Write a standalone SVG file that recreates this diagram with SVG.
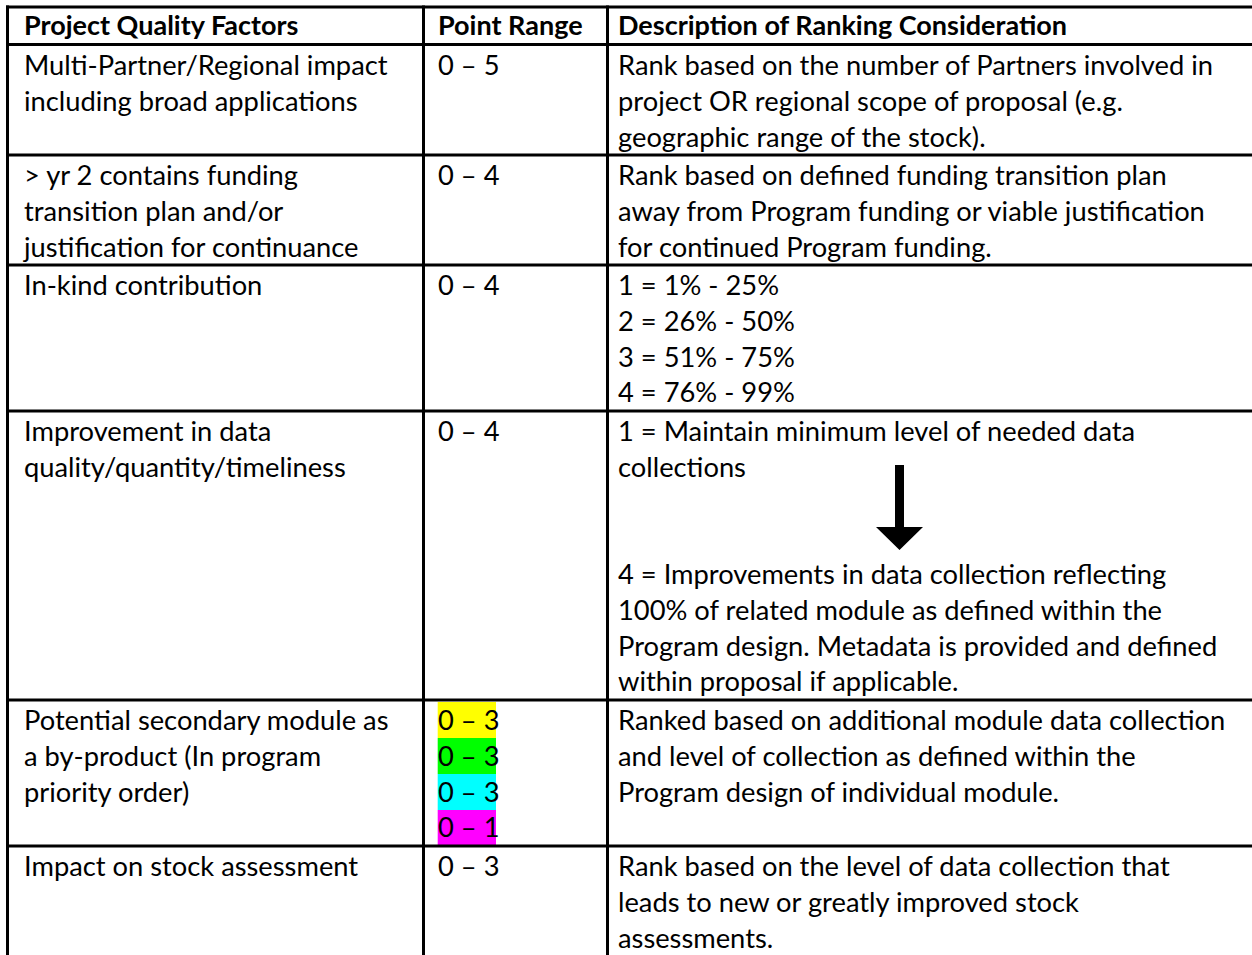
<svg xmlns="http://www.w3.org/2000/svg" width="1252" height="955" viewBox="0 0 1252 955">
<style>
text{font-family:Lato,"Carlito","Liberation Sans",sans-serif;font-size:27.3px;fill:#000}
.b{font-weight:bold;font-size:27px}
.grid line{stroke:#000;stroke-width:3}
</style>
<rect width="1252" height="955" fill="#fff"/>
<g id="highlights">
<rect x="437.7" y="702" width="58.3" height="36" fill="#ffff00"/>
<rect x="437.7" y="738" width="58.3" height="36" fill="#00ff00"/>
<rect x="437.7" y="774" width="58.3" height="36" fill="#00ffff"/>
<rect x="437.7" y="810" width="58.3" height="35" fill="#ff00ff"/>
</g>
<g id="grid" class="grid">
<line x1="6" y1="7" x2="1252" y2="7"/>
<line x1="6" y1="44.5" x2="1252" y2="44.5"/>
<line x1="6" y1="155" x2="1252" y2="155"/>
<line x1="6" y1="265" x2="1252" y2="265"/>
<line x1="6" y1="411" x2="1252" y2="411"/>
<line x1="6" y1="700" x2="1252" y2="700"/>
<line x1="6" y1="846" x2="1252" y2="846"/>
<line x1="7.5" y1="5.5" x2="7.5" y2="955"/>
<line x1="423.5" y1="5.5" x2="423.5" y2="955"/>
<line x1="607.5" y1="5.5" x2="607.5" y2="955"/>
</g>
<g id="header">
<text class="b" x="24" y="34.5">Project Quality Factors</text>
<text class="b" x="438" y="34.5">Point Range</text>
<text class="b" x="618" y="34.5">Description of Ranking Consideration</text>
</g>
<g id="row1">
<text x="24" y="75">Multi-Partner/Regional impact</text>
<text x="24" y="110.8">including broad applications</text>
<text x="438" y="75">0 – 5</text>
<text x="618" y="75">Rank based on the number of Partners involved in</text>
<text x="618" y="110.8">project OR regional scope of proposal (e.g.</text>
<text x="618" y="146.5">geographic range of the stock).</text>
</g>
<g id="row2">
<text x="24" y="185">&gt; yr 2 contains funding</text>
<text x="24" y="220.8">transition plan and/or</text>
<text x="24" y="256.5">justification for continuance</text>
<text x="438" y="185">0 – 4</text>
<text x="618" y="185">Rank based on defined funding transition plan</text>
<text x="618" y="220.8">away from Program funding or viable justification</text>
<text x="618" y="256.5">for continued Program funding.</text>
</g>
<g id="row3">
<text x="24" y="295">In-kind contribution</text>
<text x="438" y="295">0 – 4</text>
<text x="618" y="295">1 = 1% - 25%</text>
<text x="618" y="330.8">2 = 26% - 50%</text>
<text x="618" y="366.5">3 = 51% - 75%</text>
<text x="618" y="402.3">4 = 76% - 99%</text>
</g>
<g id="row4">
<text x="24" y="441">Improvement in data</text>
<text x="24" y="476.8">quality/quantity/timeliness</text>
<text x="438" y="441">0 – 4</text>
<text x="618" y="441">1 = Maintain minimum level of needed data</text>
<text x="618" y="476.8">collections</text>
<text x="618" y="584">4 = Improvements in data collection reflecting</text>
<text x="618" y="619.8">100% of related module as defined within the</text>
<text x="618" y="655.5">Program design. Metadata is provided and defined</text>
<text x="618" y="691.3">within proposal if applicable.</text>
</g>
<g id="arrow">
<polygon points="895,465 904,465 904,527 923,527 899.5,550 876,527 895,527" fill="#000"/>
</g>
<g id="row5">
<text x="24" y="730">Potential secondary module as</text>
<text x="24" y="765.8">a by-product (In program</text>
<text x="24" y="801.5">priority order)</text>
<text x="438" y="730">0 – 3</text>
<text x="438" y="765.8">0 – 3</text>
<text x="438" y="801.5">0 – 3</text>
<text x="438" y="837.3">0 – 1</text>
<text x="618" y="730">Ranked based on additional module data collection</text>
<text x="618" y="765.8">and level of collection as defined within the</text>
<text x="618" y="801.5">Program design of individual module.</text>
</g>
<g id="row6">
<text x="24" y="876">Impact on stock assessment</text>
<text x="438" y="876">0 – 3</text>
<text x="618" y="876">Rank based on the level of data collection that</text>
<text x="618" y="911.8">leads to new or greatly improved stock</text>
<text x="618" y="947.5">assessments.</text>
</g>
</svg>
